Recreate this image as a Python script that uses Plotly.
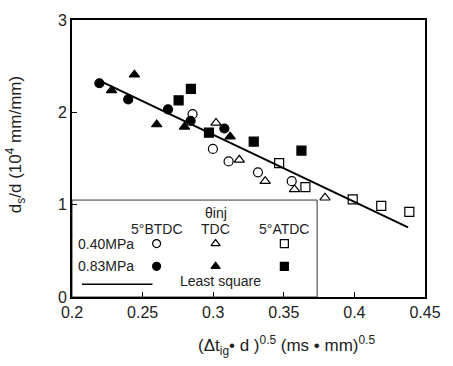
import plotly.graph_objects as go

# ---- data ----
bt40_x = [0.2854, 0.2998, 0.3109, 0.3317, 0.3556]
bt40_y = [1.98, 1.604, 1.468, 1.35, 1.254]
tdc40_x = [0.302, 0.3185, 0.3368, 0.3576, 0.3792]
tdc40_y = [1.886, 1.486, 1.254, 1.165, 1.075]
at40_x = [0.3467, 0.3653, 0.3988, 0.419, 0.4389]
at40_y = [1.45, 1.19, 1.058, 0.986, 0.922]
bt83_x = [0.2194, 0.2398, 0.268, 0.284, 0.3079]
bt83_y = [2.315, 2.14, 2.033, 1.908, 1.825]
tdc83_x = [0.228, 0.2442, 0.26, 0.2797, 0.312]
tdc83_y = [2.237, 2.408, 1.868, 1.843, 1.736]
at83_x = [0.2755, 0.2842, 0.297, 0.3287, 0.3625]
at83_y = [2.13, 2.254, 1.78, 1.683, 1.586]
fit_x = [0.2194, 0.438]
fit_y = [2.344, 0.753]

x_ticks = [0.2, 0.25, 0.3, 0.35, 0.4, 0.45]
x_ticklabels = ["0.2", "0.25", "0.3", "0.35", "0.4", "0.45"]
y_ticks = [0, 1, 2, 3]
y_ticklabels = ["0", "1", "2", "3"]

FONT = "Liberation Sans, Arial, sans-serif"
MS = 9
fig = go.Figure()

def add(xs, ys, symbol, size=MS):
    fig.add_trace(go.Scatter(x=xs, y=ys, mode="markers", showlegend=False,
                             marker=dict(symbol=symbol, size=size, color="black",
                                         line=dict(color="black", width=1.2))))

fig.add_trace(go.Scatter(x=fit_x, y=fit_y, mode="lines", showlegend=False,
                         line=dict(color="black", width=2)))
add(bt40_x, bt40_y, "circle-open")
add(tdc40_x, tdc40_y, "triangle-up-open")
add(at40_x, at40_y, "square-open")
add(bt83_x, bt83_y, "circle")
add(tdc83_x, tdc83_y, "triangle-up")
add(at83_x, at83_y, "square")

# ---- hand-drawn legend box (layout positions) ----
leg_cols = [0.2599, 0.3017, 0.3504]
leg_rows = [0.579, 0.332]
open_syms = ["circle-open", "triangle-up-open", "square-open"]
fill_syms = ["circle", "triangle-up", "square"]
for cx, s in zip(leg_cols, open_syms):
    add([cx], [leg_rows[0]], s, 8)
for cx, s in zip(leg_cols, fill_syms):
    add([cx], [leg_rows[1]], s, 8)
fig.add_trace(go.Scatter(x=[0.207, 0.257], y=[0.139, 0.139], mode="lines",
                         showlegend=False, line=dict(color="black", width=1.5)))

fig.add_shape(type="rect", x0=0.2, x1=0.3736, y0=0, y1=1.05, xref="x", yref="y",
              line=dict(color="#333", width=1))

ann_font = dict(family=FONT, size=14, color="#222")
anns = [
    (0.3017, 0.905, "θinj", "center"),
    (0.2599, 0.74, "5°BTDC", "center"),
    (0.3017, 0.74, "TDC", "center"),
    (0.3504, 0.74, "5°ATDC", "center"),
    (0.2030, 0.579, "0.40MPa", "left"),
    (0.2030, 0.332, "0.83MPa", "left"),
    (0.3050, 0.175, "Least square", "center"),
]
for ax_, ay_, t, al in anns:
    fig.add_annotation(x=ax_, y=ay_, text=t, showarrow=False, xanchor=al,
                       yanchor="middle", font=ann_font, xref="x", yref="y")

# axis titles
fig.add_annotation(x=0.3518, y=-0.175, xref="x", yref="paper", showarrow=False,
                   text="(Δt<sub>ig</sub>• d )<sup>0.5</sup> (ms • mm)<sup>0.5</sup>",
                   font=dict(family=FONT, size=17, color="#222"), yanchor="middle")
fig.add_annotation(x=-0.16, y=0.55, xref="paper", yref="paper", showarrow=False,
                   text="d<sub>s</sub>/d (10<sup>4</sup> mm/mm)", textangle=-90,
                   font=dict(family=FONT, size=17, color="#222"), xanchor="center")

axis_common = dict(showline=True, linewidth=2, linecolor="black", mirror=True,
                   ticks="inside", ticklen=5, tickwidth=1, tickcolor="black",
                   showgrid=False, zeroline=False,
                   tickfont=dict(family=FONT, size=16, color="#222"))
fig.update_xaxes(range=[0.2, 0.45], tickvals=x_ticks, ticktext=x_ticklabels, **axis_common)
fig.update_yaxes(range=[0, 3], tickvals=y_ticks, ticktext=y_ticklabels, **axis_common)

fig.update_layout(width=453, height=366, margin=dict(l=72, r=22, t=17, b=69),
                  plot_bgcolor="white", paper_bgcolor="white", showlegend=False)

fig.write_html("out.html")
